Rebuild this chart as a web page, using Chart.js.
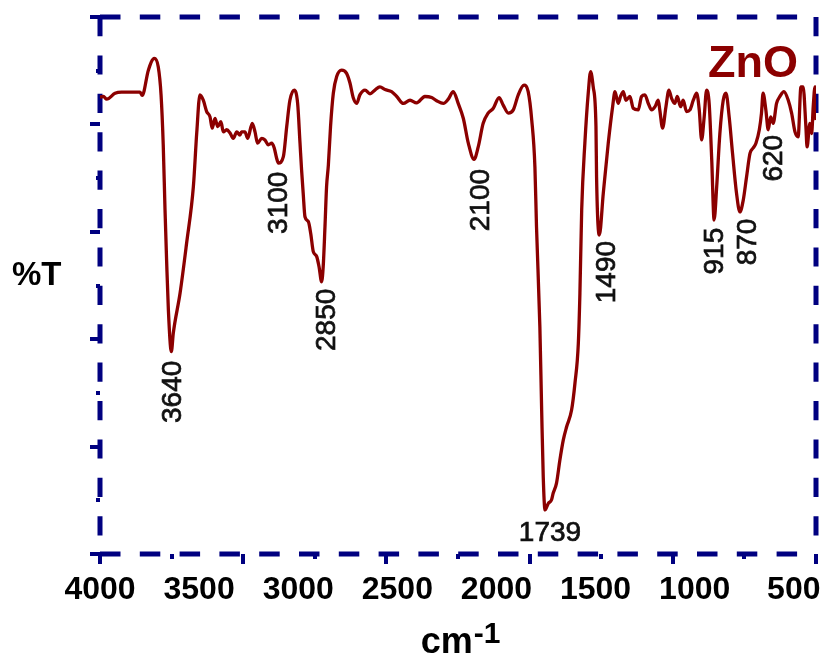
<!DOCTYPE html>
<html>
<head>
<meta charset="utf-8">
<script src="https://cdn.jsdelivr.net/npm/chart.js@4.4.0/dist/chart.umd.min.js"></script>
<style>
  html, body { margin: 0; padding: 0; background: #ffffff; }
  #wrap { width: 828px; height: 658px; }
</style>
</head>
<body>
<div id="wrap"><canvas id="ftir" width="828" height="658"></canvas></div>
<script>
// FTIR spectrum of ZnO: wavenumber (cm-1) and transmittance (%T)
const wavenumbers = [
  4000, 3983, 3966, 3924, 3891, 3798, 3787, 3756, 3726, 3706,
  3692, 3681, 3672, 3664, 3655, 3640, 3630, 3596, 3563, 3529,
  3512, 3496, 3479, 3462, 3445, 3434, 3420, 3406, 3390, 3378,
  3361, 3344, 3328, 3310, 3294, 3286, 3269, 3255, 3232, 3218,
  3205, 3184, 3168, 3151, 3134, 3121, 3109, 3100, 3075, 3058,
  3042, 3020, 3003, 2991, 2983, 2975, 2966, 2949, 2937, 2924,
  2907, 2895, 2882, 2874, 2865, 2857, 2848, 2837, 2823, 2806,
  2781, 2756, 2739, 2722, 2705, 2689, 2663, 2638, 2613, 2588,
  2562, 2529, 2503, 2470, 2436, 2403, 2361, 2327, 2302, 2268,
  2243, 2218, 2193, 2167, 2142, 2113, 2092, 2067, 2042, 2016,
  1987, 1966, 1940, 1915, 1890, 1861, 1840, 1822, 1806, 1798,
  1781, 1772, 1764, 1755, 1739, 1722, 1714, 1697, 1680, 1663,
  1646, 1621, 1604, 1587, 1579, 1570, 1554, 1537, 1525, 1512,
  1498, 1495, 1481, 1461, 1436, 1414, 1402, 1386, 1374, 1360,
  1347, 1327, 1310, 1285, 1268, 1251, 1234, 1217, 1200, 1184,
  1176, 1162, 1145, 1130, 1117, 1100, 1088, 1071, 1058, 1041,
  1024, 1007, 990, 977, 965, 952, 940, 927, 914, 902,
  889, 873, 856, 842, 826, 809, 789, 772, 755, 738,
  721, 705, 691, 674, 663, 655, 641, 629, 617, 604,
  587, 570, 550, 528, 511, 494, 478, 464, 453, 439,
  433, 419, 410, 402, 393, 388
];
const transmittance = [
  85.1, 85.2, 84.7, 85.8, 86.0, 86.0, 85.4, 90.1, 92.3, 90.7,
  85.5, 76.2, 64.1, 54.7, 45.4, 37.7, 41.2, 48.6, 57.9, 68.4,
  78.4, 85.5, 84.5, 82.4, 81.4, 79.3, 81.1, 79.6, 80.5, 78.6,
  79.0, 78.4, 77.4, 78.6, 78.0, 78.6, 78.6, 77.4, 80.2, 78.6,
  76.5, 77.4, 77.1, 76.2, 76.5, 75.6, 73.7, 72.8, 74.0, 79.6,
  84.5, 86.4, 83.9, 76.5, 71.5, 67.2, 62.8, 61.9, 59.7, 56.3,
  55.4, 53.5, 50.7, 53.5, 61.0, 68.4, 72.4, 79.6, 85.8, 88.9,
  90.1, 89.5, 87.7, 84.9, 83.9, 85.5, 86.4, 85.7, 86.4, 87.0,
  86.5, 86.1, 85.2, 83.9, 84.5, 84.0, 85.2, 85.0, 84.4, 83.9,
  84.7, 86.1, 83.9, 81.1, 76.5, 73.5, 75.8, 80.2, 82.1, 83.0,
  85.0, 83.6, 82.1, 82.7, 85.5, 87.3, 86.1, 80.8, 72.1, 61.0,
  42.3, 26.8, 14.4, 8.2, 9.4, 10.1, 11.3, 13.2, 17.5, 21.2,
  23.7, 26.8, 31.8, 39.2, 48.5, 64.1, 76.5, 85.8, 89.8, 87.0,
  79.6, 70.3, 59.4, 67.2, 76.5, 83.3, 86.1, 83.9, 85.2, 86.1,
  84.5, 85.2, 83.0, 82.7, 85.2, 85.5, 83.9, 82.7, 83.3, 84.5,
  82.7, 79.3, 83.3, 86.4, 84.9, 83.9, 85.2, 83.3, 84.5, 82.4,
  82.7, 84.5, 85.8, 82.7, 77.1, 81.4, 86.4, 83.9, 73.4, 62.2,
  68.4, 78.3, 84.5, 85.8, 81.4, 74.6, 67.2, 63.7, 65.9, 70.3,
  74.6, 75.6, 76.5, 79.0, 82.1, 85.8, 82.7, 79.0, 81.4, 80.2,
  83.9, 85.2, 86.1, 84.5, 82.1, 78.6, 77.7, 87.0, 87.0, 79.6,
  75.8, 80.2, 78.3, 83.3, 87.0, 80.8
];

// axis tick labels along the wavenumber axis
const xTickValues = [4000, 3500, 3000, 2500, 2000, 1500, 1000, 500];

// band assignments written next to the absorption minima
const peakLabelText = ['3640', '3100', '2850', '2100', '1739', '1490', '915', '870', '620'];

// where each band label sits, in axis units (wavenumber, %T); most are turned upright
const peakLabelPlacement = [
  { x: 3637, y: 30.2, upright: true },
  { x: 3107, y: 65.4, upright: true },
  { x: 2860, y: 43.6, upright: true },
  { x: 2088, y: 65.9, upright: true },
  { x: 1730, y: 4.1,  upright: false },
  { x: 1448, y: 52.5, upright: true },
  { x: 903,  y: 56.4, upright: true },
  { x: 737,  y: 58.1, upright: true },
  { x: 605,  y: 73.7, upright: true }
];

const NAVY = '#000080';
const CURVE = '#8B0000';
const FONT = '"Liberation Sans", Arial, Helvetica, sans-serif';

const range = (a, b, step) => { const r = []; for (let v = a; v <= b + 1e-9; v += step) r.push(v); return r; };

// dashed frame round the plotting area
const dashedFrame = {
  id: 'dashedFrame',
  beforeDatasetsDraw(chart) {
    const { ctx, chartArea: a } = chart;
    ctx.save();
    ctx.strokeStyle = NAVY;
    ctx.lineWidth = 5;
    ctx.lineCap = 'butt';
    const seg = (x1, y1, x2, y2, dash) => {
      ctx.setLineDash(dash);
      ctx.beginPath();
      ctx.moveTo(x1, y1);
      ctx.lineTo(x2, y2);
      ctx.stroke();
    };
    seg(a.left, a.top, a.right, a.top, [20.5, 19.3]);
    seg(a.left, a.bottom, a.right, a.bottom, [20.5, 19.3]);
    seg(a.left, a.top, a.left, a.bottom, [19.2, 19.2]);
    seg(a.right, a.top, a.right, a.bottom, [19.2, 19.2]);
    ctx.restore();
  }
};

// band labels, sample name and the two axis titles
const textLayer = {
  id: 'textLayer',
  afterDraw(chart) {
    const { ctx, chartArea: area, scales: { x, y } } = chart;
    ctx.save();

    ctx.fillStyle = '#111111';
    ctx.strokeStyle = '#111111';
    ctx.lineWidth = 0.7;
    ctx.font = `28px ${FONT}`;
    peakLabelText.forEach((t, i) => {
      const p = peakLabelPlacement[i];
      const px = x.getPixelForValue(p.x);
      const py = y.getPixelForValue(p.y);
      const m = ctx.measureText(t);
      const off = (m.actualBoundingBoxAscent - m.actualBoundingBoxDescent) / 2;
      ctx.save();
      ctx.translate(px, py);
      if (p.upright) ctx.rotate(-Math.PI / 2);
      ctx.textAlign = 'center';
      ctx.textBaseline = 'alphabetic';
      ctx.fillText(t, 0, off);
      ctx.strokeText(t, 0, off);
      ctx.restore();
    });

    // sample name
    ctx.fillStyle = CURVE;
    ctx.font = `bold 45px ${FONT}`;
    ctx.textAlign = 'right';
    ctx.textBaseline = 'alphabetic';
    ctx.fillText('ZnO', area.right - 18, area.top + 60);

    // y title
    ctx.fillStyle = '#000000';
    ctx.font = `bold 33px ${FONT}`;
    ctx.textAlign = 'left';
    ctx.fillText('%T', 12, 285);

    // x title: cm with superscript -1
    ctx.font = `bold 36px ${FONT}`;
    const wBase = ctx.measureText('cm').width;
    ctx.font = `bold 30px ${FONT}`;
    const wSup = ctx.measureText('-1').width;
    const cx = (area.left + area.right) / 2;
    const x0 = cx - (wBase + wSup) / 2 + 2;
    ctx.font = `bold 36px ${FONT}`;
    ctx.fillText('cm', x0, 653);
    ctx.font = `bold 30px ${FONT}`;
    ctx.fillText('-1', x0 + wBase + 1, 643);

    ctx.restore();
  }
};

const hiddenTicks = { display: false };
const noBorder = { display: false };
const zeroHeight = s => { s.height = 0; s.paddingLeft = 0; s.paddingRight = 0; };
const zeroWidth = s => { s.width = 0; s.paddingTop = 0; s.paddingBottom = 0; };

new Chart(document.getElementById('ftir'), {
  type: 'line',
  data: {
    datasets: [{
      label: 'ZnO',
      data: wavenumbers.map((w, i) => ({ x: w, y: transmittance[i] })),
      borderColor: CURVE,
      borderWidth: 3.3,
      pointRadius: 0,
      fill: false,
      cubicInterpolationMode: 'monotone'
    }]
  },
  options: {
    responsive: false,
    animation: false,
    devicePixelRatio: 1,
    layout: { padding: { top: 17, right: 12, left: 0, bottom: 0 } },
    plugins: { legend: { display: false }, tooltip: { enabled: false } },
    scales: {
      // wavenumber axis: carries the numbers only
      x: {
        type: 'linear', position: 'bottom', reverse: true, min: 388, max: 4000, weight: 10,
        afterBuildTicks: s => { s.ticks = xTickValues.map(v => ({ value: v })); },
        ticks: {
          color: '#000', font: { family: FONT, size: 32, weight: 'bold' },
          padding: 17, maxRotation: 0, autoSkip: false,
          callback: v => String(v)
        },
        grid: { display: false, drawTicks: false },
        border: noBorder,
        afterFit: s => { s.height = 104; s.paddingLeft = 0; s.paddingRight = 0; }
      },
      // long tick marks below the frame
      xMajor: {
        type: 'linear', position: 'bottom', min: 0, max: 10, weight: 0,
        afterBuildTicks: s => { s.ticks = range(0, 10, 2).map(v => ({ value: v })); },
        ticks: hiddenTicks,
        grid: { display: true, drawOnChartArea: false, drawTicks: true, tickLength: 10, color: NAVY, lineWidth: 4 },
        border: noBorder,
        afterFit: zeroHeight
      },
      // short tick marks between them
      xMinor: {
        type: 'linear', position: 'bottom', min: 0, max: 10, weight: 0,
        afterBuildTicks: s => { s.ticks = range(1, 9, 2).map(v => ({ value: v })); },
        ticks: hiddenTicks,
        grid: { display: true, drawOnChartArea: false, drawTicks: true, tickLength: 5, color: NAVY, lineWidth: 4 },
        border: noBorder,
        afterFit: zeroHeight
      },
      y: {
        type: 'linear', position: 'left', min: 0, max: 100, weight: 10,
        afterBuildTicks: s => { s.ticks = range(0, 100, 20).map(v => ({ value: v })); },
        ticks: hiddenTicks,
        grid: { display: true, drawOnChartArea: false, drawTicks: true, tickLength: 10, color: NAVY, lineWidth: 4 },
        border: noBorder,
        afterFit: s => { s.width = 100; s.paddingTop = 0; s.paddingBottom = 0; }
      },
      yMinor: {
        type: 'linear', position: 'left', min: 0, max: 100, weight: 0,
        afterBuildTicks: s => { s.ticks = range(10, 90, 20).map(v => ({ value: v })); },
        ticks: hiddenTicks,
        grid: { display: true, drawOnChartArea: false, drawTicks: true, tickLength: 4, color: NAVY, lineWidth: 4 },
        border: noBorder,
        afterFit: zeroWidth
      }
    }
  },
  plugins: [dashedFrame, textLayer]
});
</script>
</body>
</html>
